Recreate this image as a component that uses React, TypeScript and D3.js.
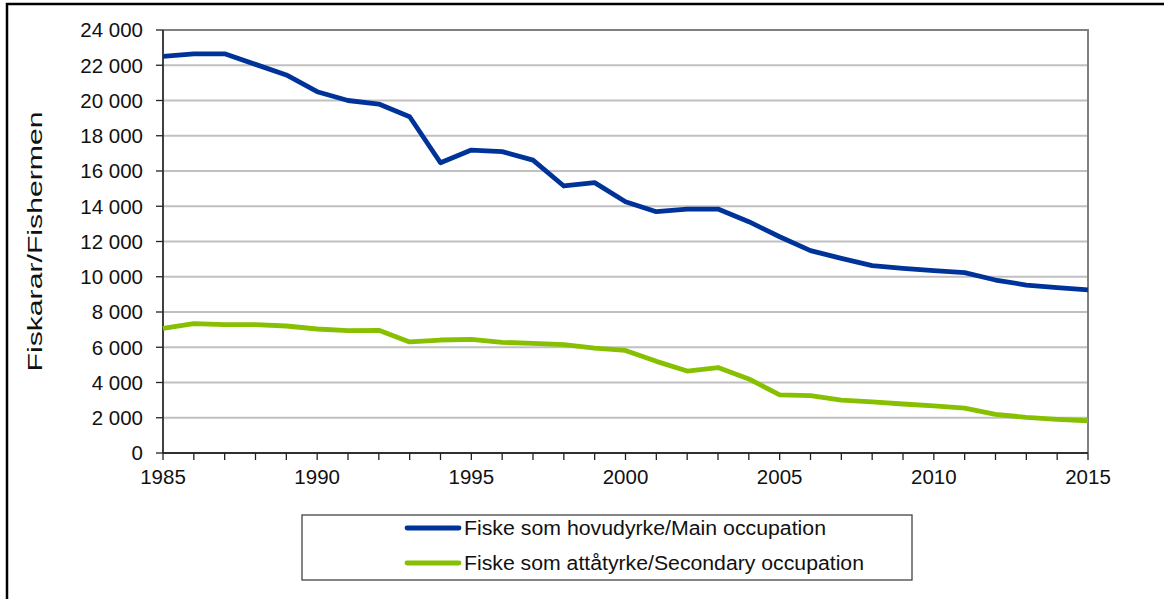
import React from 'react'
import * as d3 from 'd3'

// fishermen in Norway, 1985-2015
const years = d3.range(1985, 2016)
const mainOccupation = [
  22500, 22650, 22650, 22050, 21450, 20500, 20000, 19800, 19080, 16470,
  17190, 17100, 16620, 15150, 15340, 14260, 13690, 13840, 13840, 13125,
  12270, 11480, 11045, 10630, 10480, 10345, 10230, 9815, 9530, 9380, 9250,
]
const secondaryOccupation = [
  7075, 7340, 7280, 7280, 7205, 7035, 6940, 6960, 6300, 6410,
  6450, 6280, 6225, 6150, 5950, 5820, 5200, 4650, 4850, 4200,
  3300, 3250, 3000, 2900, 2780, 2670, 2550, 2195, 2025, 1910, 1830,
]
const yTicks = [0, 2000, 4000, 6000, 8000, 10000, 12000, 14000, 16000, 18000, 20000, 22000, 24000]
const xLabels = [1985, 1990, 1995, 2000, 2005, 2010, 2015]

const seriesNames = [
  'Fiske som hovudyrke/Main occupation',
  'Fiske som attåtyrke/Secondary occupation',
]
const seriesColors = ['#003399', '#86c000']

const fmt = d3.formatLocale({decimal: ',', thousands: ' ', grouping: [3], currency: ['', '']}).format(',')

export default function App() {
  const W = 1164, H = 599
  const left = 163, right = 1088, top = 30, bottom = 453

  const x = d3.scaleLinear().domain([1985, 2015]).range([left, right])
  const y = d3.scaleLinear().domain([0, 24000]).range([bottom, top])

  const line = d3.line<number>()
    .x((d, i) => x(years[i]))
    .y(d => y(d))

  const font = '"Liberation Sans", Arial, sans-serif'
  const series = [mainOccupation, secondaryOccupation]
  const legendLen = [362, 400]

  return (
    <svg width={W} height={H} style={{position: 'absolute', left: 0, top: 0, background: '#fff'}} fontFamily={font}>
      {/* outer frame */}
      <path d={`M7,${H} V4 H${W}`} fill="none" stroke="#000" strokeWidth={2.5} />

      {/* gridlines */}
      {yTicks.map(t => (
        <line key={'g' + t} x1={left} x2={right} y1={y(t)} y2={y(t)} stroke="#c0c0c0" strokeWidth={2} />
      ))}
      {/* plot border top + right */}
      <path d={`M${left},${top} H${right} V${bottom}`} fill="none" stroke="#808080" strokeWidth={2} />

      {/* y axis */}
      <line x1={left} x2={left} y1={top} y2={bottom} stroke="#404040" strokeWidth={2} />
      {yTicks.map(t => (
        <g key={'y' + t}>
          <line x1={left - 7} x2={left} y1={y(t)} y2={y(t)} stroke="#222" strokeWidth={1.3} />
          <text x={left - 20} y={y(t)} dy="0.36em" textAnchor="end" fontSize={20.5} fill="#111">{fmt(t)}</text>
        </g>
      ))}

      {/* x axis */}
      <line x1={left} x2={right} y1={bottom} y2={bottom} stroke="#303030" strokeWidth={2} />
      {years.map(yr => (
        <line key={'xt' + yr} x1={x(yr)} x2={x(yr)} y1={bottom} y2={bottom + 7} stroke="#222" strokeWidth={1.3} />
      ))}
      {xLabels.map(yr => (
        <text key={'xl' + yr} x={x(yr)} y={bottom + 31} textAnchor="middle" fontSize={20.5} fill="#111">{yr}</text>
      ))}

      {/* y axis title */}
      <text transform={`translate(42,${(top + bottom) / 2}) rotate(-90)`} textAnchor="middle" fontSize={21}
        fill="#111" textLength={260} lengthAdjust="spacingAndGlyphs">
        Fiskarar/Fishermen
      </text>

      {/* series */}
      {series.map((s, i) => (
        <path key={'s' + i} d={line(s) || ''} fill="none" stroke={seriesColors[i]} strokeWidth={4.8} strokeLinejoin="round" />
      ))}

      {/* legend */}
      <rect x={302} y={515} width={610} height={65} fill="#fff" stroke="#444" strokeWidth={1.3} />
      {seriesNames.map((n, i) => (
        <g key={'l' + i} transform={`translate(0,${528 + i * 35})`}>
          <line x1={407} x2={459} y1={0} y2={0} stroke={seriesColors[i]} strokeWidth={4.8} strokeLinecap="round" />
          <text x={464} y={0} dy="0.36em" fontSize={20} fill="#111" textLength={legendLen[i]} lengthAdjust="spacingAndGlyphs">{n}</text>
        </g>
      ))}
    </svg>
  )
}
